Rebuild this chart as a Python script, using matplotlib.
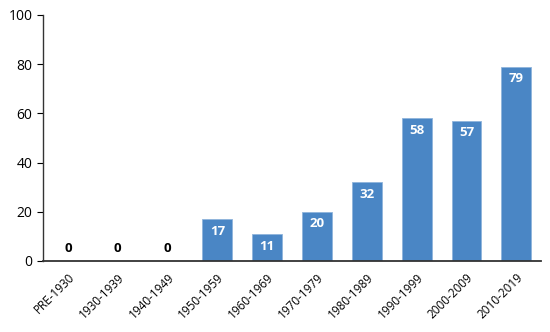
import matplotlib
matplotlib.use("Agg")
import matplotlib.pyplot as plt

# Decades and counts
decades = ["PRE-1930", "1930-1939", "1940-1949", "1950-1959", "1960-1969",
           "1970-1979", "1980-1989", "1990-1999", "2000-2009", "2010-2019"]
counts = [0, 0, 0, 17, 11, 20, 32, 58, 57, 79]
y_ticks = [0, 20, 40, 60, 80, 100]

plt.rcParams['font.family'] = ['Open Sans', 'DejaVu Sans']

fig = plt.figure(figsize=(5.5, 3.32), dpi=100)
ax = fig.add_axes([0.078, 0.214, 0.906, 0.741])

x = range(len(decades))
bars = ax.bar(x, counts, width=0.6, color="#4a86c5", edgecolor="#8fb4dc", linewidth=0.6)

# value labels: white inside bars, black above the axis for zeros
for xi, v in zip(x, counts):
    if v == 0:
        ax.text(xi, 2.3, str(v), ha="center", va="bottom", fontsize=9.5,
                fontweight="bold", color="black")
    else:
        ax.text(xi, v - 2.3, str(v), ha="center", va="top", fontsize=9.5,
                fontweight="bold", color="white")

ax.set_xlim(-0.5, len(decades) - 0.5)
ax.set_ylim(0, 100)
ax.set_yticks(y_ticks)
ax.set_xticks(list(x))
ax.set_xticklabels(decades, rotation=45, ha="right", rotation_mode="anchor", fontsize=8.5)
ax.tick_params(axis="y", labelsize=10, length=4, direction="out")
ax.tick_params(axis="x", length=0, pad=7)

for s in ["top", "right"]:
    ax.spines[s].set_visible(False)
ax.spines["left"].set_linewidth(1.0)
ax.spines["bottom"].set_linewidth(1.3)
ax.spines["left"].set_color("#333333")
ax.spines["bottom"].set_color("#333333")

fig.savefig("out.png", dpi=100)
